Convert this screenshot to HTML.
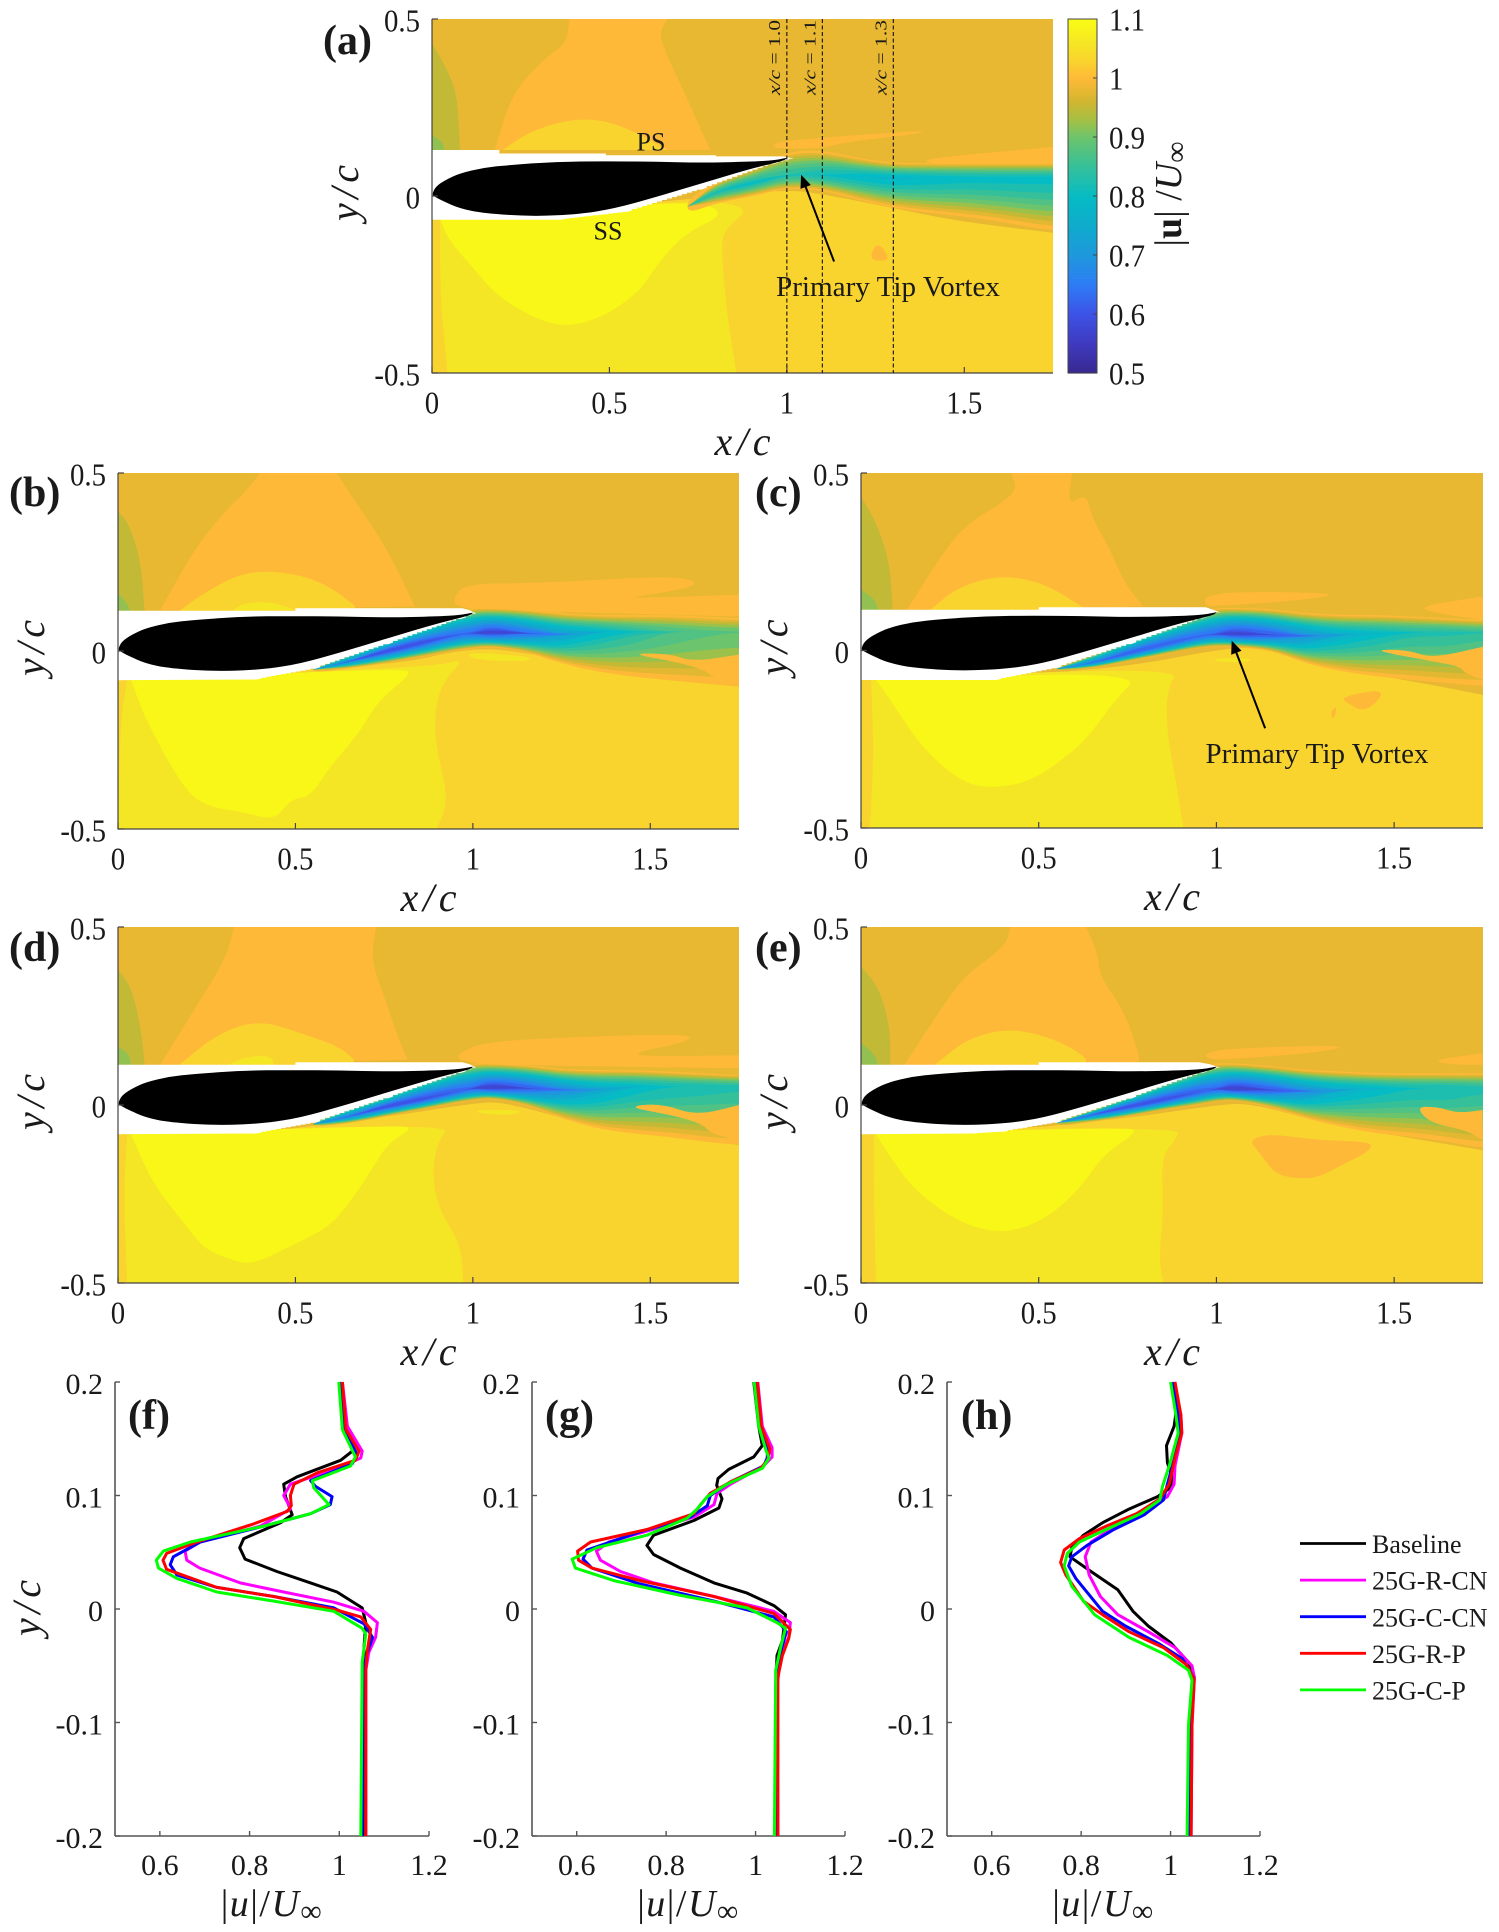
<!DOCTYPE html>
<html lang="en">
<head>
<meta charset="utf-8">
<title>Velocity magnitude contours and wake profiles</title>
<style>
html,body{margin:0;padding:0;background:#fff;width:1499px;height:1932px;overflow:hidden}
svg{display:block}
text{font-family:"Liberation Serif","DejaVu Serif",serif;fill:#1a1a1a}
</style>
</head>
<body>
<svg id="figure" xmlns="http://www.w3.org/2000/svg" width="1499" height="1932" viewBox="0 0 1499 1932"></svg>
<script>
/* ---------- airfoil outline (x/c, y/c) ---------- */
const airfoilX=[0,.01,.037,.078,.146,.214,.351,.488,.624,.761,.898,.966,1.0,.993,.898,.761,.624,.515,.419,.283,.146,.078,.03,.007];
const airfoilY=[.005,.026,.045,.064,.08,.087,.097,.098,.097,.094,.097,.101,.108,.1,.077,.036,-.005,-.035,-.051,-.058,-.049,-.035,-.014,-.002];

/* ---------- colour scale ---------- */
const scaleValues=[.5,.55,.6,.65,.7,.75,.8,.85,.9,.93,.96,.98,1.0,1.03,1.06,1.09,1.1];
const scaleColors=["#38288f","#3f3abf","#3d52e6","#2e7cf5","#1e98dc","#0fabcc","#06bcc4","#35c09a","#6cc46c","#a5c044","#d0b530","#e8b832","#feb938","#fad42e","#f5e625","#f8f718","#f9fb14"];
const colorbarTicks=[.5,.6,.7,.8,.9,1,1.1];
const wakeLevels=[1.0,.975,.95,.925,.9,.875,.85,.825,.8,.775,.75,.725,.7,.675,.65,.625,.6,.575,.55];

/* ---------- contour regions: [value, xs, ys] ---------- */
const regionsA=[
[.95,[0,.039,.071,.079,0],[.431,.365,.29,.13,.13]],
[.92,[0,.031,.034,0],[.172,.153,.13,.13]],
[1.0,[.387,.663,.639,.663,.712,.784,.177,.225,.323,.379],[.5,.5,.46,.394,.29,.13,.13,.29,.394,.431]],
[1.03,[.2,.275,.387,.485,.582,.663],[.13,.182,.217,.215,.177,.13]],
[1.03,[0,.729,1,1.13,1.32,1.48,1.75,1.75,0],[-.067,-.01,.02,.0,-.038,-.071,-.104,-.5,-.5]],
[1.06,[.023,.729,.904,.823,.815,.832,.849,.857,.044,.023],[-.067,-.01,-.03,-.095,-.152,-.34,-.444,-.5,-.5,-.29]],
[1.09,[.023,.729,.833,.712,.63,.582,.469,.347,.193,.112,.047],[-.067,-.01,-.049,-.105,-.199,-.274,-.35,-.373,-.293,-.199,-.124]],
[1.0,[.963,1.003,1.376,1.385,1.166,1.101,.963],[.148,.157,.186,.177,.153,.134,.134]],
[1.0,[1.368,1.539,1.753,1.753,1.44],[.102,.12,.139,.078,.087]],
[1.0,[1.23,1.255,1.287,1.279],[-.18,-.128,-.17,-.184]]
];
const regionsB=[
[.95,[0,.03,.064,.075,0],[.392,.359,.256,.113,.113]],
[.92,[0,.026,.034,0],[.162,.134,.113,.113]],
[1.0,[.399,.617,.652,.761,.836,.119,.214,.296,.365],[.5,.5,.444,.284,.125,.115,.284,.387,.453]],
[1.03,[.173,.228,.324,.406,.515,.597,.665,.672],[.113,.153,.209,.226,.214,.181,.129,.113]],
[1.06,[.324,.351,.433,.501],[.113,.134,.139,.115]],
[1.03,[0,.761,1,1.171,1.444,1.75,1.75,0],[-.075,-.044,.012,-.007,-.072,-.1,-.5,-.5]],
[1.06,[.026,.898,.98,.911,.891,.898,.932,.898,0,.007],[-.082,-.044,-.02,-.091,-.185,-.279,-.419,-.5,-.5,-.194]],
[1.09,[.037,.816,.822,.734,.679,.597,.542,.488,.441,.351,.255,.187,.078],[-.082,-.047,-.068,-.138,-.232,-.325,-.41,-.415,-.476,-.452,-.438,-.391,-.194]],
[1.0,[.945,.98,1.171,1.553,1.635,1.608,1.465,1.444,1.75,1.75,1.034,.952],[.148,.19,.19,.211,.195,.176,.153,.148,.158,.097,.115,.125]],
[1.06,[.98,1.17,1.15,1.0],[-.002,-.016,-.03,-.025]]
];
const regionsC=[
[.95,[0,.049,.082,.089,0],[.434,.349,.237,.115,.115]],
[.92,[0,.036,.049,0],[.171,.147,.115,.115]],
[1.0,[.422,.594,.581,.634,.648,.701,.741,.794,.129,.249,.315,.382,.441],[.5,.5,.406,.444,.378,.284,.19,.124,.115,.303,.368,.406,.453]],
[1.03,[.195,.275,.395,.515,.621,.621],[.115,.18,.213,.19,.124,.115]],
[1.03,[0,.581,.781,1,1.113,1.312,1.578,1.751,1.751,0],[-.083,-.059,-.04,.002,.011,-.045,-.092,-.125,-.5,-.5]],
[1.06,[.029,.9,.86,.86,.887,.907,.025,.036],[-.083,-.045,-.11,-.232,-.374,-.5,-.5,-.305]],
[1.09,[.043,.794,.714,.634,.541,.461,.355,.275,.169,.089],[-.083,-.059,-.139,-.252,-.327,-.374,-.388,-.365,-.271,-.149]],
[1.0,[.967,1.047,1.352,1.26,.993,.967],[.152,.166,.162,.143,.124,.129]],
[1.0,[1.565,1.751,1.751,1.618],[.124,.152,.086,.105]],
[1.0,[1.352,1.485,1.42,1.366],[-.13,-.106,-.176,-.148]],
[1.0,[1.319,1.339,1.332],[-.177,-.153,-.196]],
[1.06,[.993,1.1,1.09,1.0],[-.022,-.022,-.032,-.032]]
];
const regionsD=[
[.95,[0,.037,.064,.075,0],[.38,.333,.22,.113,.113]],
[.92,[0,.03,.037,0],[.164,.145,.113,.113]],
[1.0,[.327,.727,.713,.747,.788,.816,.119,.214,.303],[.5,.5,.408,.314,.192,.127,.113,.267,.408]],
[1.03,[.173,.283,.399,.515,.624,.665,.665],[.113,.202,.239,.202,.164,.127,.113]],
[1.06,[.31,.36,.43,.44],[.113,.135,.14,.113]],
[1.03,[0,.488,.761,1,1.089,1.307,1.581,1.751,1.751,0],[-.082,-.066,-.033,.005,.009,-.052,-.089,-.113,-.5,-.5]],
[1.06,[.026,.939,.904,.884,.904,.966,.973,.026,.016],[-.082,-.052,-.098,-.183,-.295,-.389,-.5,-.5,-.249]],
[1.09,[.037,.816,.822,.761,.72,.665,.597,.501,.378,.31,.242,.187,.105,.064],[-.082,-.056,-.07,-.108,-.173,-.258,-.342,-.389,-.45,-.432,-.403,-.333,-.23,-.145]],
[1.0,[.959,1.034,1.307,1.615,1.608,1.444,1.505,1.751,1.751,1.034,.959],[.145,.178,.192,.2,.178,.145,.136,.14,.103,.113,.127]],
[1.06,[1.007,1.143,1.116,1.02],[-.014,-.014,-.028,-.025]]
];
const regionsE=[
[.95,[0,.049,.082,.082,0],[.389,.333,.22,.113,.113]],
[.92,[0,.036,.049,0],[.174,.145,.113,.113]],
[1.0,[.42,.633,.666,.672,.739,.785,.779,.122,.248,.301,.407],[.5,.5,.427,.361,.267,.136,.113,.113,.305,.37,.446]],
[1.03,[.208,.301,.42,.54,.633,.633],[.113,.188,.216,.188,.136,.113]],
[1.03,[0,.513,.779,1,1.097,1.309,1.574,1.749,1.749,0],[-.082,-.061,-.033,0,.005,-.052,-.098,-.127,-.5,-.5]],
[1.06,[.036,.898,.885,.845,.851,.838,.851,.042,.036],[-.082,-.061,-.098,-.145,-.295,-.436,-.5,-.5,-.249]],
[1.09,[.042,.765,.772,.686,.619,.54,.447,.354,.248,.142,.076],[-.082,-.061,-.08,-.136,-.23,-.305,-.352,-.356,-.314,-.23,-.136]],
[1.0,[.971,1.03,1.375,1.309,1.03,.971],[.145,.159,.169,.15,.127,.131]],
[1.0,[1.607,1.749,1.749,1.654],[.127,.145,.113,.113]],
[1.0,[1.09,1.15,1.282,1.442,1.428,1.362,1.282,1.216,1.163,1.123],[-.099,-.08,-.099,-.103,-.131,-.164,-.206,-.206,-.192,-.136]]
];

/* ---------- wake stations: x, upper edge, lower edge, core y, core velocity ---------- */
const wakeAX=[.72,.8,.9,1,1.1,1.2,1.3,1.4,1.5,1.6,1.75];
const wakeAUp=[-.01,.041,.074,.126,.13,.107,.093,.093,.093,.093,.093];
const wakeALow=[-.05,-.02,-.001,.022,.017,-.011,-.034,-.048,-.058,-.072,-.1];
const wakeACore=[-.03,.013,.036,.06,.06,.055,.05,.05,.05,.05,.05];
const wakeAVel=[.98,.82,.79,.83,.8,.78,.77,.78,.79,.79,.79];

const wakeX=[.55,.65,.75,.85,.95,1,1.05,1.15,1.25,1.35,1.45,1.55,1.65,1.75];
const wakeBUp=[-.044,-.008,.029,.068,.108,.121,.121,.117,.106,.101,.101,.101,.097,.092];
const wakeBLow=[-.061,-.049,-.035,-.018,0,.007,.012,-.002,-.035,-.058,-.072,-.082,-.091,-.1];
const wakeBCore=[-.052,-.03,-.002,.022,.045,.05,.052,.05,.045,.054,.054,.054,.054,.054];
const wakeBVel=[.95,.68,.58,.58,.62,.62,.56,.63,.72,.78,.82,.85,.87,.88];

const wakeCUp=[-.045,-.012,.03,.068,.105,.12,.12,.117,.105,.1,.1,.096,.091,.086];
const wakeCLow=[-.059,-.05,-.031,-.012,.007,.011,.011,.002,-.036,-.059,-.073,-.083,-.092,-.101];
const wakeCCore=[-.052,-.036,-.008,.016,.04,.046,.047,.044,.04,.044,.049,.051,.051,.051];
const wakeCVel=[.9,.66,.6,.6,.62,.62,.56,.6,.69,.76,.79,.82,.82,.84];

const wakeDUp=[-.047,-.005,.023,.07,.103,.117,.117,.113,.1,.098,.098,.094,.089,.084];
const wakeDLow=[-.061,-.052,-.033,-.014,.005,.012,.019,0,-.038,-.066,-.08,-.089,-.103,-.113];
const wakeDCore=[-.054,-.033,-.005,.014,.037,.047,.049,.047,.042,.042,.052,.052,.052,.052];
const wakeDVel=[.85,.66,.58,.58,.6,.62,.55,.6,.67,.74,.78,.8,.81,.82];

const wakeEUp=[-.042,-.014,.023,.066,.103,.117,.117,.11,.098,.094,.089,.089,.089,.089];
const wakeELow=[-.061,-.047,-.033,-.014,0,.009,.014,-.005,-.038,-.061,-.08,-.089,-.103,-.122];
const wakeECore=[-.05,-.028,-.005,.014,.037,.045,.045,.042,.038,.042,.047,.047,.047,.047];
const wakeEVel=[.9,.64,.58,.58,.6,.62,.55,.6,.68,.75,.78,.8,.8,.82];

/* ---------- far wake orange folds ---------- */
const foldBX=[1.44,1.553,1.62,1.75,1.75,1.68,1.65,1.57];
const foldBY=[-.007,-.007,-.03,-.01,-.1,-.075,-.052,-.03];
const foldCX=[1.432,1.539,1.605,1.751,1.751,1.698,1.685,1.605];
const foldCY=[.002,.002,-.022,.011,-.083,-.064,-.045,-.03];
const foldDX=[1.43,1.53,1.63,1.751,1.751,1.67,1.65,1.57];
const foldDY=[-.005,.005,-.03,0,-.1,-.08,-.055,-.03];
const foldEX=[1.561,1.62,1.68,1.749,1.749,1.7,1.6];
const foldEY=[-.005,-.005,-.023,-.014,-.098,-.07,-.05];

/* ---------- white measurement mask outlines ---------- */
const maskAX=[0,.19,.19,.49,.49,.8,.8,.99,1.02,.96,.76,.55,.36,0];
const maskAY=[.13,.13,.12,.12,.115,.115,.112,.112,.105,.09,.018,-.045,-.067,-.067];
const maskBX=[0,.5,.5,.97,.99,1.01,.966,.761,.556,.39,0];
const maskBY=[.113,.113,.12,.12,.115,.105,.09,.019,-.05,-.08,-.082];
const maskCX=[0,.5,.5,.97,.99,1.01,.96,.76,.55,.38,0];
const maskCY=[.115,.115,.122,.122,.115,.108,.09,.018,-.05,-.083,-.083];
const maskDX=[0,.5,.5,.97,.99,1.01,.966,.761,.556,.39,0];
const maskDY=[.113,.113,.12,.12,.115,.105,.09,.019,-.05,-.08,-.082];
const maskEX=[0,.5,.5,.95,.98,1.01,.96,.76,.55,.4,.314,0];
const maskEY=[.113,.113,.12,.12,.115,.105,.09,.018,-.05,-.075,-.08,-.082];

/* ---------- profile (f) x/c = 1.0 ---------- */
const fBlackU=[1,1.012,1.025,1.029,1.003,.906,.876,.88,.895,.869,.787,.778,.79,.861,.936,.995,1.051,1.059,1.055,1.055,1.055];
const fBlackY=[.2,.17,.15,.139,.131,.1165,.11,.099,.083,.076,.062,.054,.044,.033,.023,.015,.001,-.012,-.034,-.1,-.2];
const fMagentaU=[1.007,1.018,1.051,1.048,.988,.891,.876,.887,.891,.824,.69,.656,.66,.689,.779,.876,.988,1.055,1.085,1.081,1.066,1.059,1.059];
const fMagentaY=[.2,.161,.139,.133,.123,.11,.1,.092,.088,.073,.059,.051,.043,.036,.023,.015,.006,-.002,-.012,-.025,-.038,-.054,-.2];
const fBlueU=[1.003,1.01,1.04,1.029,.936,.947,.984,.98,.936,.832,.69,.63,.623,.638,.727,.854,.988,1.055,1.074,1.055,1.051];
const fBlueY=[.2,.158,.136,.128,.113,.108,.099,.092,.084,.073,.059,.046,.039,.03,.019,.011,.001,-.013,-.025,-.047,-.2];
const fRedU=[1.007,1.015,1.044,1.036,.951,.899,.891,.893,.884,.809,.683,.615,.607,.615,.727,.854,.995,1.048,1.07,1.062,1.059,1.059];
const fRedY=[.2,.158,.139,.131,.12,.11,.1,.091,.086,.075,.059,.049,.043,.035,.019,.011,-.001,-.007,-.018,-.038,-.054,-.2];
const fGreenU=[.999,1.007,1.036,1.025,.94,.943,.977,.936,.832,.668,.608,.592,.597,.638,.727,.854,.988,1.051,1.059,1.051,1.048];
const fGreenY=[.2,.158,.134,.126,.113,.107,.092,.084,.073,.059,.051,.043,.036,.027,.015,.007,-.002,-.017,-.022,-.047,-.2];

/* ---------- profile (g) x/c = 1.1 ---------- */
const gBlackU=[.996,1.007,1.015,.996,.94,.916,.913,.925,.918,.862,.772,.757,.772,.832,.907,.981,1.041,1.067,1.06,1.048,1.045,1.048];
const gBlackY=[.2,.161,.144,.134,.123,.115,.109,.097,.089,.078,.065,.056,.048,.036,.023,.014,.003,-.005,-.028,-.041,-.07,-.2];
const gMagentaU=[1.005,1.015,1.037,1.037,1.018,.944,.914,.907,.862,.742,.672,.644,.653,.698,.772,.907,1.041,1.078,1.074,1.056,1.048,1.05];
const gMagentaY=[.2,.161,.142,.134,.126,.11,.102,.092,.081,.067,.059,.051,.043,.033,.023,.011,-.002,-.012,-.025,-.041,-.07,-.2];
const gBlueU=[1,1.01,1.027,1.026,1.018,.944,.899,.892,.854,.742,.623,.614,.634,.742,.907,1.041,1.069,1.056,1.047,1.045];
const gBlueY=[.2,.161,.142,.133,.126,.112,.1,.091,.081,.068,.052,.044,.036,.022,.007,-.007,-.02,-.038,-.06,-.2];
const gRedU=[1.004,1.013,1.032,1.027,1.011,.944,.899,.877,.862,.757,.631,.602,.604,.634,.742,.907,1.041,1.078,1.074,1.06,1.05,1.05];
const gRedY=[.2,.161,.141,.131,.124,.112,.102,.092,.084,.07,.059,.051,.043,.036,.025,.011,-.004,-.018,-.026,-.041,-.06,-.2];
const gGreenU=[.997,1.007,1.024,1.03,1.015,.936,.892,.869,.847,.757,.645,.59,.597,.683,.832,.981,1.048,1.067,1.056,1.045,1.042];
const gGreenY=[.2,.161,.139,.133,.124,.11,.099,.088,.08,.065,.054,.044,.036,.025,.012,.001,-.012,-.017,-.034,-.054,-.2];

/* ---------- profile (h) x/c = 1.3 ---------- */
const hBlackU=[1.008,1.014,1.008,.991,.993,1.003,1,.971,.907,.848,.805,.779,.775,.822,.882,.916,.95,1.001,1.04,1.053,1.044,1.042];
const hBlackY=[.2,.178,.161,.144,.129,.117,.107,.099,.088,.076,.065,.054,.046,.033,.017,-.002,-.015,-.03,-.047,-.06,-.102,-.2];
const hMagentaU=[1.008,1.023,1.025,1.01,1.008,.993,.95,.873,.822,.809,.818,.843,.882,.95,1.01,1.048,1.053,1.048,1.046];
const hMagentaY=[.2,.171,.155,.126,.11,.099,.088,.072,.059,.046,.03,.011,-.005,-.02,-.034,-.05,-.06,-.102,-.2];
const hBlueU=[1.005,1.017,1.023,1.006,.993,.984,.941,.873,.813,.779,.772,.788,.848,.899,.976,1.027,1.051,1.044,1.042];
const hBlueY=[.2,.171,.155,.129,.11,.096,.083,.07,.056,.046,.038,.027,-.002,-.015,-.031,-.044,-.06,-.102,-.2];
const hRedU=[1.01,1.023,1.025,1.01,.997,.976,.924,.856,.796,.762,.754,.766,.805,.848,.907,.984,1.035,1.053,1.048,1.046];
const hRedY=[.2,.171,.155,.133,.11,.097,.084,.073,.062,.052,.041,.03,.007,-.005,-.02,-.034,-.049,-.062,-.102,-.2];
const hGreenU=[1,1.012,1.017,.997,.982,.976,.933,.856,.796,.769,.762,.779,.83,.907,.993,1.04,1.048,1.04,1.037];
const hGreenY=[.2,.171,.155,.126,.108,.096,.084,.07,.059,.049,.038,.02,-.005,-.025,-.041,-.054,-.063,-.102,-.2];

/* ---------- axes ticks and legend ---------- */
const fieldXTicks=[0,.5,1,1.5];
const fieldXTickLabels=["0","0.5","1","1.5"];
const fieldYTicks=[-.5,0,.5];
const fieldYTickLabels=["-0.5","0","0.5"];
const profileXTicks=[.6,.8,1,1.2];
const profileXTickLabels=["0.6","0.8","1","1.2"];
const profileYTicks=[-.2,-.1,0,.1,.2];
const profileYTickLabels=["-0.2","-0.1","0","0.1","0.2"];
const stationValues=[1.0,1.1,1.3];
const legendLabels=["Baseline","25G-R-CN","25G-C-CN","25G-R-P","25G-C-P"];
const seriesColors=["#000000","#ff00ff","#0000ff","#ff0000","#00ff00"];

const NS="http://www.w3.org/2000/svg";
const root=document.getElementById("figure");

function mk(tag,attrs,parent){
  const el=document.createElementNS(NS,tag);
  for(const k in attrs){el.setAttribute(k,attrs[k]);}
  (parent||root).appendChild(el);
  return el;
}
function hex(c){return [1,3,5].map(function(i){return parseInt(c.substr(i,2),16);});}
function colorOf(v){
  if(v<=scaleValues[0])return scaleColors[0];
  for(let i=1;i<scaleValues.length;i++){
    if(v<=scaleValues[i]){
      const t=(v-scaleValues[i-1])/(scaleValues[i]-scaleValues[i-1]);
      const a=hex(scaleColors[i-1]),b=hex(scaleColors[i]);
      return "rgb("+a.map(function(p,j){return Math.round(p+(b[j]-p)*t);}).join(",")+")";
    }
  }
  return scaleColors[scaleColors.length-1];
}
function label(str,x,y,size,anchor,name,opts){
  opts=opts||{};
  const el=mk("text",{x:x,y:y+size*.33,"font-size":size,"text-anchor":anchor||"middle"},opts.parent);
  if(opts.bold)el.setAttribute("font-weight","bold");
  if(opts.italic)el.setAttribute("font-style","italic");
  if(opts.rotate)el.setAttribute("transform","rotate(-90 "+x+" "+y+")");
  el.textContent=str;
  if(opts.length){
    el.setAttribute("textLength",opts.length);
    el.setAttribute("lengthAdjust",opts.spacing?"spacing":"spacingAndGlyphs");
  }
  if(opts.squeeze){
    el.setAttribute("textLength",(el.getComputedTextLength()*opts.squeeze).toFixed(1));
    el.setAttribute("lengthAdjust","spacingAndGlyphs");
  }
  
  
  return el;
}
function velocityLabel(x,y,name,bold){
  const el=mk("text",{x:x,y:y+13,"font-size":38,"text-anchor":"middle"});
  
  
  if(!bold)el.setAttribute("letter-spacing","1.5");
  const parts=[["|",null],["u",bold?"b":"i"],["|",null],[bold?" /":"/",null],["U","i"]];
  parts.forEach(function(p){
    const t=mk("tspan",{},el);
    if(p[1]==="i")t.setAttribute("font-style","italic");
    if(p[1]==="b")t.setAttribute("font-weight","bold");
    t.textContent=p[0];
  });
  const sub=mk("tspan",{dy:5,"font-size":30},el);
  sub.textContent="\u221E";
  return el;
}
/* closed outline with rounded interior vertices; flagged vertices stay sharp */
function smoothClosed(ring,isHard){
  const n=ring.length;
  let d="";
  const mid=function(a,b){return ((a[0]+b[0])/2).toFixed(1)+" "+((a[1]+b[1])/2).toFixed(1);};
  for(let i=0;i<n;i++){
    const v=ring[i],prev=ring[(i-1+n)%n],next=ring[(i+1)%n];
    const cmd=i===0?"M":"L";
    if(isHard(i)){
      d+=cmd+v[0].toFixed(1)+" "+v[1].toFixed(1);
    }else{
      d+=cmd+mid(prev,v)+"Q"+v[0].toFixed(1)+" "+v[1].toFixed(1)+" "+mid(v,next);
    }
  }
  return d+"Z";
}

/* ---------- contour panels ---------- */
function fieldPanel(p){
  const sx=function(v){return p.L+v/1.75*(p.R-p.L);};
  const sy=function(v){return p.B-(v+.5)*(p.B-p.T);};
  const g=mk("g",{});
  
  
  const clip=mk("clipPath",{id:"clip-"+p.id},g);
  mk("rect",{x:p.L,y:p.T,width:p.R-p.L,height:p.B-p.T},clip);
  const field=mk("g",{"clip-path":"url(#clip-"+p.id+")"},g);
  
  
  const bg=mk("rect",{x:p.L,y:p.T,width:p.R-p.L,height:p.B-p.T,fill:colorOf(.98)},field);
  
  
  const pts=function(xs,ys){return xs.map(function(x,i){return sx(x).toFixed(1)+","+sy(ys[i]).toFixed(1);}).join(" ");};
  const regionPath=function(xs,ys){
    const ring=xs.map(function(x,i){return [sx(x),sy(ys[i])];});
    return smoothClosed(ring,function(i){
      const onBox=xs[i]<=.001||xs[i]>=1.74||Math.abs(ys[i])>=.499;
      const onMaskTop=ys[i]>=.11&&ys[i]<=.132&&xs[i]<.9;
      const onMaskBottom=ys[i]>=-.09&&ys[i]<=-.055&&xs[i]<.6;
      return onBox||onMaskTop||onMaskBottom;
    });
  };
  p.regions.forEach(function(r){
    const poly=mk("path",{d:regionPath(r[1],r[2]),fill:colorOf(r[0])},field);
    
    
  });
  const xs=p.wx.concat([1.95]);
  const ext=function(a){return a.concat([a[a.length-1]]);};
  const up=ext(p.up),low=ext(p.low),core=ext(p.core),vel=ext(p.vel);
  wakeLevels.forEach(function(level){
    const upper=[],lower=[];
    xs.forEach(function(x,i){
      const frac=Math.min(1,(1-level)/(1-vel[i]));
      const s=Math.pow(1-frac,.7);
      upper.push([sx(x),sy(core[i]+(up[i]-core[i])*s)]);
      lower.unshift([sx(x),sy(core[i]-(core[i]-low[i])*s)]);
    });
    const w=mk("path",{d:smoothClosed(upper.concat(lower),function(){return false;}),fill:colorOf(level)},field);
    
    
  });
  if(p.foldX){
    const fold=mk("path",{d:regionPath(p.foldX,p.foldY),fill:colorOf(1.0)},field);
    
    
  }
  /* white mask with a stair-stepped suction side */
  const mx=[],my=[];
  p.maskX.forEach(function(x,i){
    if(i>0){
      const x0=p.maskX[i-1],y0=p.maskY[i-1];
      if(x<x0-.03&&p.maskY[i]<y0-.004){
        const steps=Math.round((x0-x)/.014);
        for(let k=1;k<steps;k++){
          const xk=x0+(x-x0)*k/steps,yk=y0+(p.maskY[i]-y0)*k/steps,yp=y0+(p.maskY[i]-y0)*(k-1)/steps;
          mx.push(xk);my.push(yp);
          mx.push(xk);my.push(yk);
        }
      }
    }
    mx.push(x);my.push(p.maskY[i]);
  });
  const mask=mk("polygon",{points:pts(mx,my),fill:"#ffffff"},field);
  
  
  const foilRing=airfoilX.map(function(x,i){return [sx(x),sy(airfoilY[i])];});
  const foil=mk("path",{d:smoothClosed(foilRing,function(i){return airfoilX[i]>=.999;}),fill:"#000000"},field);
  
  
  /* axes */
  const axY=mk("line",{x1:p.L,x2:p.L,y1:p.T,y2:p.B+.5,stroke:"#444","stroke-width":1.2},g);
  
  
  const axX=mk("line",{x1:p.L,x2:p.R,y1:p.B,y2:p.B,stroke:"#444","stroke-width":1.2},g);
  
  
  fieldXTicks.forEach(function(t,i){
    const tick=mk("line",{x1:sx(t),x2:sx(t),y1:p.B,y2:p.B-6,stroke:"#444","stroke-width":1.2},g);
    
    
    label(fieldXTickLabels[i],sx(t),p.B+30,32,"middle","x-tick-label",{parent:g,squeeze:.9});
  });
  fieldYTicks.forEach(function(t,i){
    const tick=mk("line",{x1:p.L,x2:p.L+6,y1:sy(t),y2:sy(t),stroke:"#444","stroke-width":1.2},g);
    
    
    label(fieldYTickLabels[i],p.L-12,sy(t)+2,32,"end","y-tick-label",{parent:g,squeeze:.9});
  });
  label("x/c",(p.L+p.R)/2,p.B+69,40,"middle","x-axis-title",{italic:true,parent:g,length:56,spacing:true});
  label("y/c",p.L-87,(p.T+p.B)/2-3,40,"middle","y-axis-title",{italic:true,rotate:true,parent:g,length:56,spacing:true});
  label("("+p.id+")",p.tagX,p.tagY,42,"start","panel-label-"+p.id,{bold:true,parent:g});
  p.sx=sx;p.sy=sy;
  return p;
}

const panelA=fieldPanel({id:"a",L:432,R:1053,T:19,B:373,regions:regionsA,wx:wakeAX,up:wakeAUp,low:wakeALow,core:wakeACore,vel:wakeAVel,maskX:maskAX,maskY:maskAY,tagX:323,tagY:40});
const panelB=fieldPanel({id:"b",L:118,R:739,T:473,B:829,regions:regionsB,wx:wakeX,up:wakeBUp,low:wakeBLow,core:wakeBCore,vel:wakeBVel,foldX:foldBX,foldY:foldBY,maskX:maskBX,maskY:maskBY,tagX:9,tagY:492});
const panelC=fieldPanel({id:"c",L:861,R:1483,T:473,B:828,regions:regionsC,wx:wakeX,up:wakeCUp,low:wakeCLow,core:wakeCCore,vel:wakeCVel,foldX:foldCX,foldY:foldCY,maskX:maskCX,maskY:maskCY,tagX:755,tagY:492});
const panelD=fieldPanel({id:"d",L:118,R:739,T:927,B:1283,regions:regionsD,wx:wakeX,up:wakeDUp,low:wakeDLow,core:wakeDCore,vel:wakeDVel,foldX:foldDX,foldY:foldDY,maskX:maskDX,maskY:maskDY,tagX:9,tagY:947});
const panelE=fieldPanel({id:"e",L:861,R:1483,T:927,B:1283,regions:regionsE,wx:wakeX,up:wakeEUp,low:wakeELow,core:wakeECore,vel:wakeEVel,foldX:foldEX,foldY:foldEY,maskX:maskEX,maskY:maskEY,tagX:755,tagY:947});

/* ---------- panel (a) annotations ---------- */
stationValues.forEach(function(v){
  const x=panelA.sx(v);
  const dash=mk("line",{x1:x,x2:x,y1:panelA.T,y2:panelA.B,stroke:"#111","stroke-width":1.1,"stroke-dasharray":"4 2.5"});
  
  
  const t=mk("text",{x:x-7,y:95,"font-size":17,"text-anchor":"start",transform:"rotate(-90 "+(x-7)+" 95)",textLength:75,lengthAdjust:"spacingAndGlyphs"});
  
  
  const it=mk("tspan",{"font-style":"italic"},t);
  it.textContent="x/c";
  const rest=mk("tspan",{},t);
  rest.textContent=" = "+v.toFixed(1);
});
label("PS",651,142,26,"middle","pressure-side-label");
label("SS",608,231,26,"middle","suction-side-label");
label("Primary Tip Vortex",888,287,28,"middle","tip-vortex-label-a",{length:224});
label("Primary Tip Vortex",1317,754,28,"middle","tip-vortex-label-c",{length:223});

function arrow(p,x1,y1,x2,y2,name){
  const ax=p.sx(x1),ay=p.sy(y1),bx=p.sx(x2),by=p.sy(y2);
  const len=Math.hypot(bx-ax,by-ay),ux=(bx-ax)/len,uy=(by-ay)/len;
  const g=mk("g",{});
  
  
  mk("line",{x1:ax,y1:ay,x2:bx-ux*8,y2:by-uy*8,stroke:"#000","stroke-width":2},g);
  const h=13,w=5.5;
  const pts=[[bx,by],[bx-ux*h-uy*w,by-uy*h+ux*w],[bx-ux*h+uy*w,by-uy*h-ux*w]];
  mk("polygon",{points:pts.map(function(q){return q[0].toFixed(1)+","+q[1].toFixed(1);}).join(" "),fill:"#000"},g);
}
arrow(panelA,1.133,-.185,1.04,.06,"tip-vortex-arrow-a");
arrow(panelC,1.137,-.219,1.043,.028,"tip-vortex-arrow-c");

/* ---------- colourbar ---------- */
const cb={L:1068,R:1097,T:19,B:373};
const cbGroup=mk("g",{});


const cbSy=function(v){return cb.B-(v-.5)/.6*(cb.B-cb.T);};
for(let i=0;i<120;i++){
  const v0=.5+.6*i/120,v1=.5+.6*(i+1)/120;
  const band=mk("rect",{x:cb.L,y:cbSy(v1),width:cb.R-cb.L,height:cbSy(v0)-cbSy(v1)+.6,fill:colorOf((v0+v1)/2)},cbGroup);
  
  
}
const cbFrame=mk("rect",{x:cb.L,y:cb.T,width:cb.R-cb.L,height:cb.B-cb.T,fill:"none",stroke:"#444","stroke-width":1},cbGroup);


colorbarTicks.forEach(function(t){
  const tick=mk("line",{x1:cb.R-4,x2:cb.R,y1:cbSy(t),y2:cbSy(t),stroke:"#444","stroke-width":1},cbGroup);
  
  
  label(String(t),1109,cbSy(t)+1,32,"start","colorbar-tick-label",{parent:cbGroup,squeeze:.9});
});
const cbTitle=velocityLabel(0,0,"colorbar-title",true);
cbTitle.setAttribute("transform","translate(1168 194) rotate(-90)");

/* ---------- line panels ---------- */
function profilePanel(p){
  const sx=function(v){return p.L+(v-.5)/.7*(p.R-p.L);};
  const sy=function(v){return p.B-(v+.2)/.4*(p.B-p.T);};
  const g=mk("g",{});
  
  
  const axY=mk("line",{x1:p.L,x2:p.L,y1:p.T,y2:p.B,stroke:"#555","stroke-width":1.6},g);
  
  
  const axX=mk("line",{x1:p.L,x2:p.R,y1:p.B,y2:p.B,stroke:"#555","stroke-width":1.6},g);
  
  
  profileXTicks.forEach(function(t,i){
    const tick=mk("line",{x1:sx(t),x2:sx(t),y1:p.B,y2:p.B-5,stroke:"#555","stroke-width":1.4},g);
    
    
    label(profileXTickLabels[i],sx(t),p.B+29,30,"middle","x-tick-label",{parent:g});
  });
  profileYTicks.forEach(function(t,i){
    const tick=mk("line",{x1:p.L,x2:p.L+5,y1:sy(t),y2:sy(t),stroke:"#555","stroke-width":1.4},g);
    
    
    label(profileYTickLabels[i],p.L-12,sy(t)+2,30,"end","y-tick-label",{parent:g});
  });
  p.series.forEach(function(s,i){
    const line=mk("polyline",{points:s[0].map(function(u,k){return sx(u).toFixed(1)+","+sy(s[1][k]).toFixed(1);}).join(" "),fill:"none",stroke:seriesColors[i],"stroke-width":3,"stroke-linejoin":"round"},g);
    
    
  });
  label("("+p.id+")",p.tagX,1415,42,"start","panel-label-"+p.id,{bold:true,parent:g});
  const title=velocityLabel((p.L+p.R)/2,1903,"x-axis-title-"+p.id,false);
  g.appendChild(title);
}
profilePanel({id:"f",L:115,R:429,T:1382,B:1836,tagX:128,series:[[fBlackU,fBlackY],[fMagentaU,fMagentaY],[fBlueU,fBlueY],[fRedU,fRedY],[fGreenU,fGreenY]]});
profilePanel({id:"g",L:532,R:845,T:1382,B:1836,tagX:545,series:[[gBlackU,gBlackY],[gMagentaU,gMagentaY],[gBlueU,gBlueY],[gRedU,gRedY],[gGreenU,gGreenY]]});
profilePanel({id:"h",L:947,R:1260,T:1382,B:1836,tagX:961,series:[[hBlackU,hBlackY],[hMagentaU,hMagentaY],[hBlueU,hBlueY],[hRedU,hRedY],[hGreenU,hGreenY]]});
label("y/c",27,1608,40,"middle","y-axis-title-f",{italic:true,rotate:true,length:56,spacing:true});

/* ---------- legend ---------- */
const legend=mk("g",{});


legendLabels.forEach(function(name,i){
  const y=1543.5+i*36.6;
  const sw=mk("line",{x1:1300,x2:1366,y1:y,y2:y,stroke:seriesColors[i],"stroke-width":2.8},legend);
  
  
  label(name,1372,y+1,26,"start","legend-entry",{parent:legend});
});
</script>
</body>
</html>
